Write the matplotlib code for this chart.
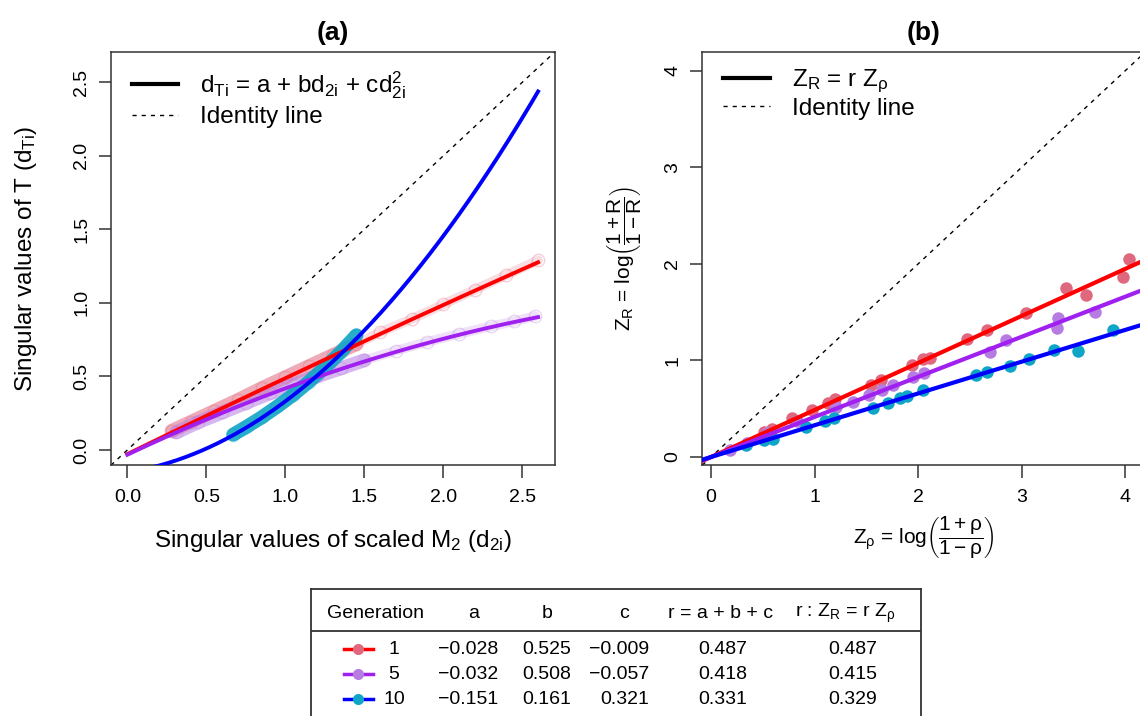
import numpy as np
import matplotlib
matplotlib.use('Agg')
import matplotlib.pyplot as plt
from matplotlib.lines import Line2D
from matplotlib.ticker import FormatStrFormatter

plt.rcParams['font.family'] = ['Liberation Sans', 'DejaVu Sans']
plt.rcParams['mathtext.fontset'] = 'custom'
plt.rcParams['mathtext.rm'] = 'Liberation Sans'
plt.rcParams['mathtext.it'] = 'Liberation Sans'
plt.rcParams['mathtext.bf'] = 'Liberation Sans:bold'

# table values
generations = [1, 5, 10]
coef_a = [-0.028, -0.032, -0.151]
coef_b = [0.525, 0.508, 0.161]
coef_c = [-0.009, -0.057, 0.321]
r_sum = [0.487, 0.418, 0.331]
r_fit = [0.487, 0.415, 0.329]

line_cols = ['#FF0000', '#A020F0', '#0000FF']
point_cols = ['#E0687E', '#B77CE2', '#0FA5C6']

g1_d2 = [0.28, 0.40, 0.55, 0.70, 0.85, 1.00, 1.15, 1.30, 1.45, 1.60, 1.80, 2.00, 2.20, 2.40, 2.60]
g1_dT = [0.13, 0.19, 0.265, 0.34, 0.42, 0.495, 0.57, 0.645, 0.72, 0.80, 0.89, 0.99, 1.09, 1.19, 1.29]
g5_d2 = [0.31, 0.45, 0.60, 0.75, 0.90, 1.05, 1.20, 1.35, 1.50, 1.70, 1.90, 2.10, 2.30, 2.45, 2.58]
g5_dT = [0.12, 0.19, 0.255, 0.32, 0.385, 0.445, 0.50, 0.555, 0.61, 0.675, 0.735, 0.79, 0.84, 0.875, 0.91]
g10_d2 = [0.67, 0.75, 0.85, 0.95, 1.05, 1.15, 1.25, 1.35, 1.45]
g10_dT = [0.105, 0.155, 0.222, 0.296, 0.376, 0.465, 0.56, 0.665, 0.78]
band_end = [9, 9, 9]   # dense part of each band (number of points)

# panel (b): Fisher z of observed vs expected correlations
g1_zrho = [0.51, 0.59, 0.78, 0.97, 1.13, 1.20, 1.54, 1.64, 1.94, 2.05, 2.11, 2.47, 2.66, 3.04, 3.43, 3.62, 3.98, 4.04]
g1_zR = [0.26, 0.29, 0.40, 0.49, 0.56, 0.60, 0.75, 0.80, 0.95, 1.01, 1.03, 1.22, 1.31, 1.49, 1.75, 1.68, 1.86, 2.05]
g5_zrho = [0.18, 0.35, 0.54, 0.83, 1.21, 1.37, 1.52, 1.65, 1.76, 1.95, 2.06, 2.69, 2.85, 3.34, 3.35, 3.71]
g5_zR = [0.07, 0.14, 0.25, 0.37, 0.52, 0.57, 0.64, 0.69, 0.75, 0.83, 0.87, 1.09, 1.21, 1.34, 1.44, 1.50]
g10_zrho = [0.34, 0.51, 0.60, 0.92, 1.10, 1.19, 1.56, 1.71, 1.82, 1.89, 2.05, 2.56, 2.66, 2.89, 3.07, 3.31, 3.54, 3.88]
g10_zR = [0.12, 0.18, 0.19, 0.31, 0.37, 0.40, 0.51, 0.56, 0.61, 0.63, 0.69, 0.85, 0.88, 0.94, 1.01, 1.11, 1.10, 1.32]

obs_a = [(g1_d2, g1_dT), (g5_d2, g5_dT), (g10_d2, g10_dT)]
obs_b = [(g1_zrho, g1_zR), (g5_zrho, g5_zR), (g10_zrho, g10_zR)]

W, H = 1140, 716
fig = plt.figure(figsize=(W / 100, H / 100), dpi=100)
edge = '#333333'
dash = (3, 3.6)


def style_axes(ax):
    for s in ax.spines.values():
        s.set_color(edge)
        s.set_linewidth(1.1)
    ax.tick_params(direction='out', length=9, width=1.1, color=edge,
                   labelsize=14)
    ax.tick_params(axis='x', pad=8)
    ax.tick_params(axis='y', pad=6, labelrotation=90)
    for lab in ax.get_yticklabels():
        lab.set_va('center')


# ---------------- panel (a)
ax = fig.add_axes([110.9 / W, 1 - 465.3 / H, 443.6 / W, 413 / H])
ax.set_xlim(-0.104, 2.704)
ax.set_ylim(-0.104, 2.704)
ax.set_xticks(np.arange(0, 2.6, 0.5))
ax.set_yticks(np.arange(0, 2.6, 0.5))
ax.xaxis.set_major_formatter(FormatStrFormatter('%.1f'))
ax.yaxis.set_major_formatter(FormatStrFormatter('%.1f'))

band_alpha = [0.55, 0.55, 0.9]
band_lw = [10, 10, 10]
for i, (x, y) in enumerate(obs_a):
    n = band_end[i]
    ax.plot(x[:n], y[:n], color=point_cols[i], lw=band_lw[i], alpha=band_alpha[i],
            solid_capstyle='round', zorder=2)
    if len(x) > n:
        ax.plot(x[n - 1:], y[n - 1:], color=point_cols[i], lw=7, alpha=0.22,
                solid_capstyle='round', zorder=2)
    ax.plot(x, y, 'o', mfc='none', mec=point_cols[i], ms=9, mew=1, alpha=0.3, zorder=2)

xs = np.linspace(0, 2.6, 300)
for i in range(3):
    ax.plot(xs, coef_a[i] + coef_b[i] * xs + coef_c[i] * xs ** 2,
            color=line_cols[i], lw=2.8, zorder=3)
ax.axline((0, 0), slope=1, color='black', lw=1, dashes=dash, zorder=1)

style_axes(ax)
ax.set_title('(a)', fontsize=19, fontweight='bold', pad=9)
ax.set_xlabel(r'Singular values of scaled M$_2$ (d$_{2i}$)', fontsize=17.5)
ax.set_ylabel(r'Singular values of T (d$_{Ti}$)', fontsize=17.5)
ax.xaxis.set_label_coords(0.5, -0.152)
ax.yaxis.set_label_coords(-0.162, 0.5)

hands = [Line2D([], [], color='black', lw=3),
         Line2D([], [], color='black', lw=1, dashes=dash)]
ax.legend(hands, [r'd$_{Ti}$ = a + bd$_{2i}$ + cd$_{2i}^2$', 'Identity line'],
          loc='upper left', bbox_to_anchor=(0.047, 0.958), frameon=False,
          fontsize=17.5, borderpad=0, borderaxespad=0, handlelength=1.9,
          handletextpad=0.9, labelspacing=0.2)

# ---------------- panel (b)
bx = fig.add_axes([702 / W, 1 - 465.3 / H, 443 / W, 413 / H])
bx.set_xlim(-0.088, 4.19)
bx.set_ylim(-0.086, 4.19)
bx.set_xticks(range(5))
bx.set_yticks(range(5))

for i, (x, y) in enumerate(obs_b):
    bx.plot(x, y, 'o', color=point_cols[i], ms=9, mew=0, zorder=2)
zx = np.array(bx.get_xlim())
for i in range(3):
    bx.plot(zx, r_fit[i] * zx, color=line_cols[i], lw=3, zorder=3)
bx.axline((0, 0), slope=1, color='black', lw=1, dashes=dash, zorder=1)

style_axes(bx)
bx.set_title('(b)', fontsize=19, fontweight='bold', pad=9)
bx.set_xlabel(r'Z$_\rho$ = log$\left(\dfrac{1+\rho}{1-\rho}\right)$', fontsize=15)
bx.set_ylabel(r'Z$_R$ = log$\left(\dfrac{1+R}{1-R}\right)$', fontsize=15)
bx.xaxis.set_label_coords(0.5, -0.12)
bx.yaxis.set_label_coords(-0.13, 0.5)

bx.legend(hands, [r'Z$_R$ = r Z$_\rho$', 'Identity line'],
          loc='upper left', bbox_to_anchor=(0.0485, 0.962), frameon=False,
          fontsize=17.5, borderpad=0, borderaxespad=0, handlelength=1.9,
          handletextpad=0.9, labelspacing=0.1)

# ---------------- table
tw, th = 921.2 - 311.4, 151
tab = fig.add_axes([311.4 / W, 1 - 740 / H, tw / W, th / H])
tab.set_xlim(0, tw)
tab.set_ylim(th, 0)
tab.set_xticks([])
tab.set_yticks([])
for s in tab.spines.values():
    s.set_color(edge)
    s.set_linewidth(1.3)
tab.axhline(41.7, color=edge, lw=1.3)

fs = 14
hy = 24.3
tab.text(64.3, hy, 'Generation', ha='center', va='center', fontsize=fs)
tab.text(162.1, hy, 'a', ha='center', va='center', fontsize=fs)
tab.text(235.6, hy, 'b', ha='center', va='center', fontsize=fs)
tab.text(313.1, hy, 'c', ha='center', va='center', fontsize=fs)
tab.text(409, hy, 'r = a + b + c', ha='center', va='center', fontsize=fs)
tab.text(533.6, hy, r'r : Z$_R$ = r Z$_\rho$', ha='center', va='center', fontsize=fs)


def fmt(v):
    return f'{v:.3f}'.replace('-', '\u2212')


row_y = [60.3, 85.3, 110.3]
for i, g in enumerate(generations):
    y = row_y[i]
    tab.plot([32.6, 61.3], [y, y], color=line_cols[i], lw=2.5)
    tab.plot([47], [y], 'o', color=point_cols[i], ms=8, mew=0)
    tab.text(82.5, y, str(g), ha='center', va='center', fontsize=fs)
    tab.text(186.6, y, fmt(coef_a[i]), ha='right', va='center', fontsize=fs)
    tab.text(260, y, fmt(coef_b[i]), ha='right', va='center', fontsize=fs)
    tab.text(337.6, y, fmt(coef_c[i]), ha='right', va='center', fontsize=fs)
    tab.text(411, y, fmt(r_sum[i]), ha='center', va='center', fontsize=fs)
    tab.text(541.6, y, fmt(r_fit[i]), ha='center', va='center', fontsize=fs)

fig.savefig('out.png', dpi=100)
